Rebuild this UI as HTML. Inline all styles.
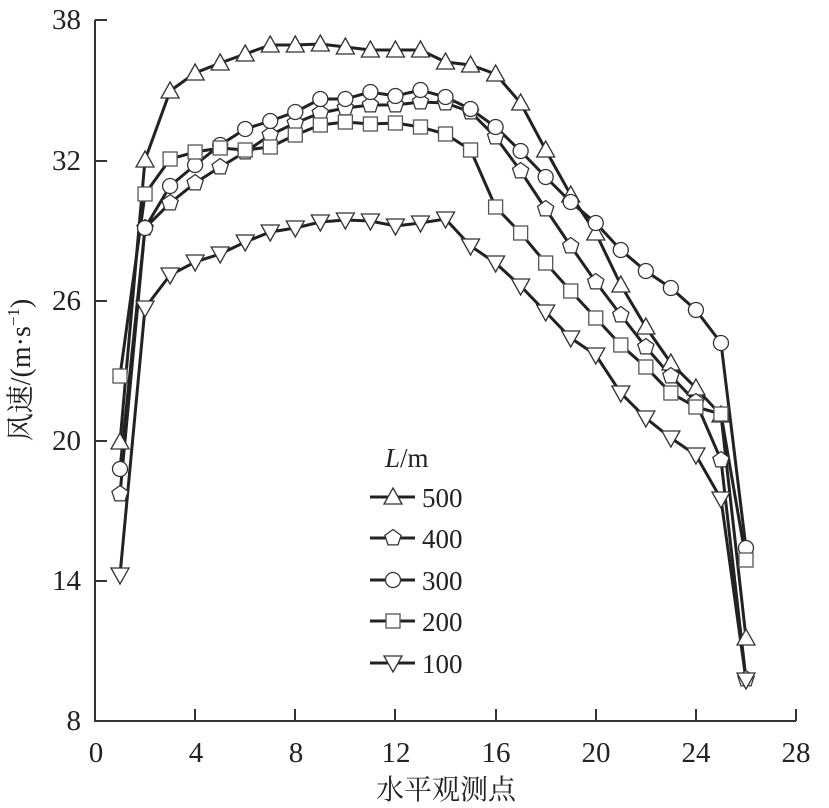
<!DOCTYPE html>
<html><head><meta charset="utf-8"><style>body{margin:0;background:#fff}svg{display:block}text{font-family:"Liberation Serif","Noto Serif CJK SC",serif;fill:#222}</style></head><body>
<svg width="829" height="808" viewBox="0 0 829 808">
<g stroke="#333" stroke-width="2" fill="none">
<path d="M95,20V721H796"/>
<path d="M95,20h12M95,161h12M95,301h12M95,441h12M95,581h12"/>
<path d="M195,721v-12M295,721v-12M395,721v-12M496,721v-12M596,721v-12M696,721v-12M796,721v-12"/>
</g>
<g font-size="29" text-anchor="end">
<text x="81" y="29">38</text><text x="81" y="170">32</text><text x="81" y="310">26</text><text x="81" y="450">20</text><text x="81" y="590">14</text><text x="81" y="730">8</text>
</g>
<g font-size="29" text-anchor="middle">
<text x="96" y="762">0</text><text x="196" y="762">4</text><text x="296" y="762">8</text><text x="396" y="762">12</text><text x="496" y="762">16</text><text x="596" y="762">20</text><text x="696" y="762">24</text><text x="796" y="762">28</text>
<text x="446" y="799" font-size="28">水平观测点</text>
</g>
<text transform="translate(30,370) rotate(-90)" font-size="28" text-anchor="middle">风速/(m·s<tspan dy="-11" font-size="17">−1</tspan><tspan dy="11">)</tspan></text>
<defs>
<path id="tu" d="M0,-9L9,7H-9Z" fill="#fff" stroke="#333" stroke-width="1.3"/>
<path id="td" d="M0,9L9,-7H-9Z" fill="#fff" stroke="#333" stroke-width="1.3"/>
<circle id="ci" r="7.5" fill="#fff" stroke="#333" stroke-width="1.3"/>
<rect id="sq" x="-7" y="-7" width="14" height="14" fill="#fff" stroke="#555" stroke-width="1.3"/>
<path id="pe" d="M0,-8.5L8.1,-2.6L5,6.9H-5L-8.1,-2.6Z" fill="#fff" stroke="#333" stroke-width="1.3"/>
</defs>
<g id="plot" stroke="#222" stroke-width="3" fill="none"></g>
<g font-size="27">
<text x="385" y="467"><tspan font-style="italic">L</tspan>/m</text>
<text x="422" y="507">500</text><text x="422" y="548">400</text><text x="422" y="590">300</text><text x="422" y="631">200</text><text x="422" y="673">100</text>
</g>
<g stroke="#222" stroke-width="3"><path d="M370,497h45M370,538h45M370,580h45M370,621h45M370,663h45"/></g>
<use href="#tu" x="393" y="497"/><use href="#pe" x="393" y="538"/><use href="#ci" x="393" y="580"/><use href="#sq" x="393" y="621"/><use href="#td" x="393" y="663"/>
<g id="marks"></g>
<script>
var S={tu:[442,160,91,73,63,54,45,45,44,47,50,50,50,62,65,74,103,150,195,233,285,327,363,388,415,638],
pe:[494,228,203,183,167,152,135,123,113,108,105,105,102,103,112,137,171,209,246,282,315,347,376,402,460,679],
ci:[469,228,186,165,145,129,121,112,99,99,92,96,90,97,109,127,151,177,202,223,250,271,288,310,343,548],
sq:[376,194,159,152,148,150,147,135,125,122,124,123,127,134,150,207,233,263,291,318,345,367,393,407,414,560],
td:[575,308,275,262,254,242,232,228,222,220,221,226,223,219,246,263,286,312,338,355,393,418,438,455,499,680]};
var ns="http://www.w3.org/2000/svg",P=document.getElementById("plot"),M=document.getElementById("marks");
for(var k in S){var d="";S[k].forEach(function(y,i){var x=120+i*25.04;d+=(i?"L":"M")+x.toFixed(1)+","+y;});
var p=document.createElementNS(ns,"path");p.setAttribute("d",d);P.appendChild(p);
S[k].forEach(function(y,i){var u=document.createElementNS(ns,"use");u.setAttribute("href","#"+k);u.setAttribute("x",120+i*25.04);u.setAttribute("y",y);M.appendChild(u);});}
</script>
</svg></body></html>
